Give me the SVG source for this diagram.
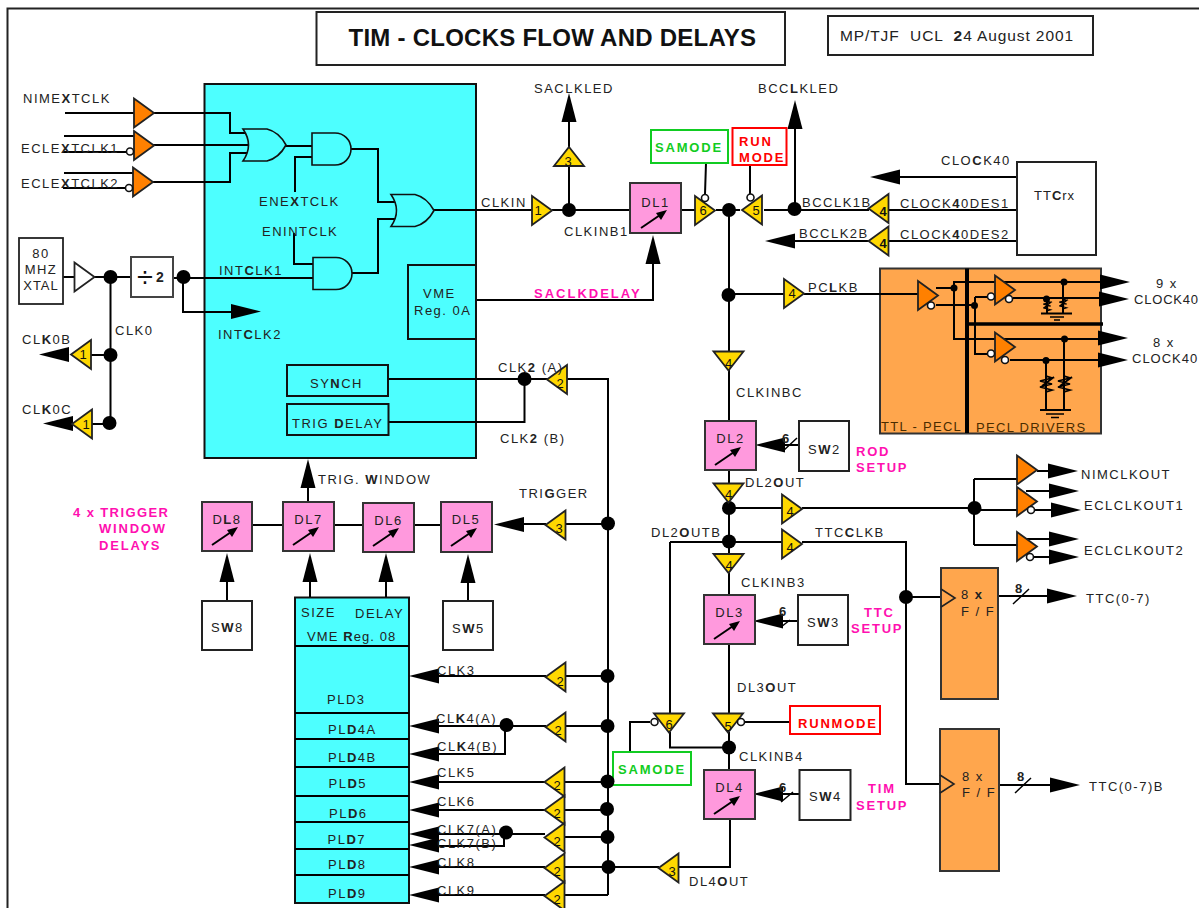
<svg xmlns="http://www.w3.org/2000/svg" width="1199" height="908" viewBox="0 0 1199 908">
<style>
text{font-family:"Liberation Sans",Arial,sans-serif;font-size:13px;letter-spacing:1.5px;fill:#222}
.b{font-weight:bold}
.m{font-weight:bold;fill:#ff10b0;letter-spacing:1.8px}
.g{font-weight:bold;fill:#11cc22;letter-spacing:1.8px}
.r{font-weight:bold;fill:#ff0000;letter-spacing:1.8px}
.n{text-anchor:middle;letter-spacing:0;fill:#111}
.c{text-anchor:middle}
.br{fill:#4a2c00}
.box{fill:#fff;stroke:#222;stroke-width:2}
.cy{fill:#4dffff;stroke:#111;stroke-width:2}
.dl{fill:#ff99dd;stroke:#333;stroke-width:2}
.or{fill:#ffa64d;stroke:#333;stroke-width:2}
.yb{fill:#ffd800;stroke:#222;stroke-width:1.8}
.ob{fill:#ff8000;stroke:#222;stroke-width:1.8}
.wb{fill:#fff;stroke:#222;stroke-width:1.8}
.gate{fill:#4dffff;stroke:#111;stroke-width:1.6}
.w{fill:none;stroke:#000;stroke-width:2}
.ff{fill:none;stroke:#222;stroke-width:1.6}
.t{fill:none;stroke:#000;stroke-width:4}
.th{fill:none;stroke:#000;stroke-width:1.5}
.grn{fill:#fff;stroke:#11cc22;stroke-width:2}
.red{fill:#fff;stroke:#ff0000;stroke-width:2}
.bub{fill:#fff;stroke:#111;stroke-width:1.6}
.d{fill:#000}
</style>
<defs>
<polygon id="tr" points="-10,-14.5 10,0 -10,14.5"/>
<polygon id="tl" points="10,-14.5 -10,0 10,14.5"/>
<polygon id="tu" points="-15,9.5 0,-9.5 15,9.5"/>
<polygon id="td" points="-15,-9.5 15,-9.5 0,9.5"/>
<polygon id="ar" points="0,0 -30,-7.5 -30,7.5"/>
<polygon id="al" points="0,0 30,-7.5 30,7.5"/>
<polygon id="au" points="0,0 -7.5,29 7.5,29"/>
<circle id="dot" r="7"/>
<circle id="sd" r="3.5"/>
<circle id="bub" r="3.5"/>
<path id="orG" d="M0,-16H24Q36,-13 43,0Q36,13 24,16H0Q11,0 0,-16Z"/>
<path id="andG" d="M0,-16H23A16,16 0 0 1 23,16H0Z"/>
<g id="dar"><path d="M0,0L22,-15" fill="none" stroke="#000" stroke-width="2"/><polygon points="26,-18 15,-15 20,-8" fill="#000"/></g>
<path id="res" d="M0,-11V-8L6,-6L-6,-3L6,0L-6,3L6,6L0,8V11M-4,2L8,-7" fill="none" stroke="#000" stroke-width="1.8"/>
</defs>

<g id="frame"><path d="M1199,8.5H7.5V908" fill="none" stroke="#222" stroke-width="2"/></g>
<g id="title"><rect class="box" x="316.5" y="12" width="468.5" height="53"/><text x="348.5" y="46" class="b" style="font-size:24px;letter-spacing:.25px;fill:#111">TIM - CLOCKS FLOW AND DELAYS</text></g>
<g id="date"><rect class="box" x="828" y="16" width="265" height="39"/><text x="840" y="41" style="font-size:15.5px;letter-spacing:.9px;white-space:pre">MP/TJF  UCL  <tspan class="b">2</tspan>4 August 2001</text></g>

<g id="panel-main"><rect class="cy" x="204.5" y="84" width="271.5" height="374"/></g>
<g id="panel-pecl"><rect class="or" x="880" y="268.5" width="221" height="165"/></g>
<g id="panel-pld">
<rect class="cy" x="295" y="597.5" width="114" height="305.5"/>
<path class="w" d="M295,646H409M295,713H409M295,739H409M295,767H409M295,796H409M295,822H409M295,849H409M295,875H409"/>
<text x="301" y="617">SIZE</text><text x="355" y="618">DELAY</text><text x="307" y="641" style="letter-spacing:1.1px">VME <tspan class="b">R</tspan>eg. 08</text>
<text x="327" y="704">PLD3</text><text x="328" y="734">PL<tspan class="b">D</tspan>4A</text><text x="328" y="762">PL<tspan class="b">D</tspan>4B</text><text x="328.5" y="788">PL<tspan class="b">D</tspan>5</text><text x="329" y="818">PL<tspan class="b">D</tspan>6</text><text x="327.5" y="844">PL<tspan class="b">D</tspan>7</text><text x="328" y="869">PL<tspan class="b">D</tspan>8</text><text x="328" y="898">PL<tspan class="b">D</tspan>9</text>
</g>

<g id="connectors">
<path class="w" d="M65,113H134M153,113H230V133H250M64,136H134M63,152H127M153,145H255M64,173H134M63,188H126M152,182H230V153H250"/>
<path class="w" d="M285,146H312M295,192V157H312M351,149H378V202H400M352,273H378V219H400M294,233V264H313M63,277H75M94,277H131M173,278H313M183,278V312H232"/>
<path class="w" d="M110.5,277V423M91,355H110M91,424H110"/>
<path class="w" d="M433,210H532M552,210H630M569,210V120M681,210H695M716,210H740M764,210H869M795,208V126M706,163L705,194M750,165V194M729,210V352M729,294H785M804,294H918"/>
<path class="w" d="M474,300H653V262"/>
<path class="w" d="M888,210H1017M888,241H1017M869,241H793M1017,177H898"/>
<path class="w" d="M388,379H548M566,379H608M524.5,379V422H388"/>
<path class="w" d="M608,378V895M565,524H608M546,524H520"/>
<path class="w" d="M252,525H283M334,525H363M414,525H441M308,488V502M227,600V581M310,597V581M386,597V581M468,601V581"/>
<path class="w" d="M729,370V421M729,470V485M729,502V554M729,508H782M802,508H975M729,542H782M802,542H906V784H941M906,597H941M670,542H729M670,542V714M729,573V595M729,644V714"/>
<path class="w" d="M974,479V545M974,479H1017M974,510H1017M974,545H1017"/>
<path class="w" d="M1037,471H1050M1026,491H1050M1034,510H1054M1026,539H1052M1033,557H1052"/>
<path class="w" d="M998,596H1048M999,785H1050"/>
<path class="th" d="M1013,604L1029,589M1015,793L1031,778"/>
<path class="w" d="M745,722H790M650,722H630V752M670,732V747.5H729M729,732V770M730,819V867H678M659,867H608"/>
<path class="w" d="M782,445H799M782,621H797M782,794H799"/>
<path class="th" d="M783,451L797,438M781,627L790,620M781,802L793,792"/>
<path class="w" d="M438,676H546M565,676H608M438,726H546M565,726H608M505,726V754H438M438,782H545M564,782H608M438,810H545M564,810H608M438,834H545M504,834V846H438M564,837H608M438,867H545M564,867H608M438,895H545M564,895H608"/>
<path class="w" d="M880,294H918M936,288H954V282H995M954,288V339H995M936,305H975M975,297V354H988M975,297H988M1003,282H1102M1013,298H1100M1004,339H1100M1010,360H1100"/>
<path class="w" d="M1047,298V313M1063,282V313M1046,360V410M1064,339V410M1041,313.5H1072M1040,410H1071"/>
<path class="w" d="M1050,317H1064M1054,320H1060M1046,414H1064M1051,417.5H1059" style="stroke-width:1.6"/>
<use href="#res" transform="translate(1047,306) scale(.62)"/>
<use href="#res" transform="translate(1063,304) scale(.62)"/>
<use href="#res" x="1046" y="384"/><use href="#res" x="1064" y="384"/>
<g class="d">
<use href="#dot" x="110.5" y="277"/><use href="#dot" x="183.5" y="277"/><use href="#dot" x="110.5" y="355"/><use href="#dot" x="109.5" y="423"/>
<use href="#dot" x="569" y="210"/><use href="#dot" x="729" y="210"/><use href="#dot" x="794.5" y="209"/><use href="#dot" x="728.5" y="295"/><use href="#dot" x="524.5" y="379"/>
<use href="#dot" x="608" y="523.5"/><use href="#dot" x="607.5" y="676"/><use href="#dot" x="607.5" y="726"/><use href="#dot" x="607" y="809"/><use href="#dot" x="607.5" y="837"/><use href="#dot" x="608.5" y="867"/>
<use href="#dot" x="729" y="508"/><use href="#dot" x="729" y="541.5"/><use href="#dot" x="729" y="747.5"/><use href="#dot" x="974.5" y="508"/><use href="#dot" x="906" y="597"/>
<use href="#dot" x="506.5" y="725"/><use href="#dot" x="506" y="832.5"/>
<use href="#sd" x="954" y="288"/><use href="#sd" x="974.5" y="305.5"/><use href="#sd" x="1064" y="282"/><use href="#sd" x="1046.5" y="299"/><use href="#sd" x="1064.5" y="339"/><use href="#sd" x="1046" y="360.5"/>
<use href="#ar" x="261" y="311.5"/><use href="#al" x="39" y="354.5"/><use href="#al" x="43" y="423.5"/>
<use href="#au" x="569" y="93"/><use href="#au" x="795" y="100"/><use href="#au" x="653" y="235"/>
<use href="#au" x="308" y="459"/><use href="#au" x="227" y="553"/><use href="#au" x="310" y="553"/><use href="#au" x="386" y="553"/><use href="#au" x="468" y="554"/>
<use href="#al" x="494" y="524.5"/><use href="#al" x="870" y="177"/><use href="#al" x="765" y="241"/>
<use href="#al" x="755" y="445"/><use href="#al" x="753" y="621"/><use href="#al" x="753" y="794"/>
<use href="#ar" x="1130" y="282"/><use href="#ar" x="1129" y="299"/><use href="#ar" x="1128" y="338"/><use href="#ar" x="1128" y="360"/>
<use href="#ar" x="1078" y="471"/><use href="#ar" x="1079" y="491"/><use href="#ar" x="1081" y="510"/><use href="#ar" x="1079" y="539"/><use href="#ar" x="1079" y="557"/>
<use href="#ar" x="1077" y="596"/><use href="#ar" x="1080" y="785"/>
<use href="#al" x="409" y="676"/><use href="#al" x="409" y="726"/><use href="#al" x="409" y="754"/><use href="#al" x="409" y="782"/><use href="#al" x="409" y="810"/><use href="#al" x="409" y="834"/><use href="#al" x="409" y="845"/><use href="#al" x="409" y="867"/><use href="#al" x="409" y="895"/>
</g>
<path d="M967,268.5V433" class="t"/><path d="M967,324H1103" class="t" style="stroke-width:3.5"/>
</g>

<g id="gates">
<g id="or1"><use href="#orG" class="gate" x="243" y="145"/></g>
<g id="and1"><use href="#andG" class="gate" x="312" y="149"/></g>
<g id="and2"><use href="#andG" class="gate" x="313" y="273.5"/></g>
<g id="or2"><use href="#orG" class="gate" x="391" y="210.5"/></g>
</g>

<g id="buffers-orange">
<g id="in-nim"><use href="#tr" class="ob" x="144" y="113"/></g>
<g id="in-ecl1"><use href="#tr" class="ob" x="144" y="145.5"/><use href="#bub" class="bub" x="130" y="151.5"/></g>
<g id="in-ecl2"><use href="#tr" class="ob" x="143" y="182"/><use href="#bub" class="bub" x="129" y="188"/></g>
<g id="pecl-in"><use href="#tr" class="ob" x="928" y="295.5"/><use href="#bub" class="bub" x="931" y="305.5"/></g>
<g id="pecl-a"><use href="#tr" class="ob" x="1005" y="290"/><use href="#bub" class="bub" x="991" y="296.5"/><use href="#bub" class="bub" x="1009" y="299"/></g>
<g id="pecl-b"><use href="#tr" class="ob" x="1005" y="347"/><use href="#bub" class="bub" x="991" y="353.5"/><use href="#bub" class="bub" x="1005" y="360"/></g>
<g id="out-nim"><use href="#tr" class="ob" x="1027" y="470"/></g>
<g id="out-ecl1"><use href="#tr" class="ob" x="1027" y="501.5"/><use href="#bub" class="bub" x="1031" y="510"/></g>
<g id="out-ecl2"><use href="#tr" class="ob" x="1027" y="546.5"/><use href="#bub" class="bub" x="1030" y="557"/></g>
<g id="xtal-buf"><use href="#tr" class="wb" x="84.5" y="277"/></g>
</g>

<g id="buffers-yellow">
<g id="b-clk0b"><use href="#tl" class="yb" x="81" y="354.5"/><text class="n" x="83" y="359">1</text></g>
<g id="b-clk0c"><use href="#tl" class="yb" x="82" y="424"/><text class="n" x="86" y="429">1</text></g>
<g id="b-clkin"><use href="#tr" class="yb" x="542" y="210.5"/><text class="n" x="538" y="215">1</text></g>
<g id="b-saclk"><use href="#tu" class="yb" x="569" y="156.5"/><text class="n" x="568" y="166">3</text></g>
<g id="b-6"><use href="#tr" class="yb" x="705" y="210.5"/><text class="n" x="703" y="215">6</text><use href="#bub" class="bub" x="705" y="198"/></g>
<g id="b-5"><use href="#tl" class="yb" x="752" y="210"/><text class="n" x="756" y="215">5</text><use href="#bub" class="bub" x="750.5" y="197.5"/></g>
<g id="b-des1"><use href="#tl" class="yb" x="878.5" y="208.5"/><text class="n b" x="883" y="216">4</text></g>
<g id="b-des2"><use href="#tl" class="yb" x="878.5" y="241"/><text class="n b" x="883" y="248">4</text></g>
<g id="b-pclk"><use href="#tr" class="yb" x="794" y="293.5"/><text class="n" x="792" y="298">4</text></g>
<g id="b-clkinbc"><use href="#td" class="yb" x="728.5" y="361"/><text class="n" x="728.5" y="368">4</text></g>
<g id="b-clk2"><use href="#tl" class="yb" x="557" y="379.5"/><text class="n" x="560" y="388">2</text></g>
<g id="b-trigger"><use href="#tl" class="yb" x="555.5" y="525"/><text class="n" x="559" y="533">3</text></g>
<g id="b-dl2out"><use href="#td" class="yb" x="728.5" y="493"/><text class="n" x="728.5" y="499">4</text></g>
<g id="b-nim"><use href="#tr" class="yb" x="792" y="509"/><text class="n" x="790" y="516">4</text></g>
<g id="b-ttc"><use href="#tr" class="yb" x="792" y="544"/><text class="n" x="790" y="552">4</text></g>
<g id="b-clkinb3"><use href="#td" class="yb" x="728.5" y="563.5"/><text class="n" x="729" y="570">4</text></g>
<g id="b-runmode"><use href="#td" class="yb" x="728" y="723"/><text class="n" x="728" y="731">5</text><use href="#bub" class="bub" x="741" y="722"/></g>
<g id="b-samode"><use href="#td" class="yb" x="669" y="723"/><text class="n" x="669" y="729">6</text><use href="#bub" class="bub" x="654.5" y="722"/></g>
<g id="b-dl4out"><use href="#tl" class="yb" x="668.5" y="868"/><text class="n" x="672" y="876">3</text></g>
<g id="b-clk3"><use href="#tl" class="yb" x="555.5" y="677"/><text class="n" x="560" y="686">2</text></g>
<g id="b-clk4"><use href="#tl" class="yb" x="555.5" y="727"/><text class="n" x="558" y="735">2</text></g>
<g id="b-clk5"><use href="#tl" class="yb" x="554.5" y="782"/><text class="n" x="557" y="790">2</text></g>
<g id="b-clk6"><use href="#tl" class="yb" x="554.5" y="810"/><text class="n" x="557" y="818">2</text></g>
<g id="b-clk7"><use href="#tl" class="yb" x="554.5" y="837.5"/><text class="n" x="557" y="846">2</text></g>
<g id="b-clk8"><use href="#tl" class="yb" x="554.5" y="868"/><text class="n" x="557" y="876">2</text></g>
<g id="b-clk9"><use href="#tl" class="yb" x="554.5" y="896"/><text class="n" x="557" y="904">2</text></g>
</g>

<g id="delays">
<g id="dl1"><rect class="dl" x="630" y="183" width="51" height="50"/><text class="c" x="655.5" y="207">DL1</text><use href="#dar" x="641" y="228"/></g>
<g id="dl2"><rect class="dl" x="705" y="421" width="51" height="49"/><text class="c" x="730.5" y="443">DL2</text><use href="#dar" x="715" y="465"/></g>
<g id="dl3"><rect class="dl" x="704" y="595" width="51" height="49"/><text class="c" x="729.5" y="617">DL3</text><use href="#dar" x="714" y="639"/></g>
<g id="dl4"><rect class="dl" x="704" y="770" width="51" height="49"/><text class="c" x="729.5" y="792">DL4</text><use href="#dar" x="714" y="814"/></g>
<g id="dl5"><rect class="dl" x="441" y="502" width="51" height="50"/><text class="c" x="466" y="524">DL5</text><use href="#dar" x="451" y="546"/></g>
<g id="dl6"><rect class="dl" x="363" y="503" width="51" height="49"/><text class="c" x="388.5" y="525">DL6</text><use href="#dar" x="373" y="546"/></g>
<g id="dl7"><rect class="dl" x="283" y="502" width="51" height="49"/><text class="c" x="308.5" y="524">DL7</text><use href="#dar" x="293" y="545"/></g>
<g id="dl8"><rect class="dl" x="202" y="502" width="50" height="49"/><text class="c" x="227" y="524">D<tspan class="b">L</tspan>8</text><use href="#dar" x="212" y="545"/></g>
</g>

<g id="boxes">
<g id="xtal"><rect class="box" x="19" y="238" width="44" height="66" style="stroke-width:1.8"/><text class="c" x="41" y="258">80</text><text class="c" x="41" y="274">MHZ</text><text class="c" x="41" y="290" style="letter-spacing:1px">XTAL</text></g>
<g id="div2"><rect class="box" x="131" y="257" width="42" height="40" style="stroke:#444"/><text x="137" y="287" class="n" style="font-size:29px;text-anchor:start">÷</text><text x="156" y="282" class="b" style="letter-spacing:0;font-size:14px">2</text></g>
<g id="vme0a"><rect class="cy" x="408" y="265" width="68" height="74"/><text x="423" y="298">VME</text><text x="414" y="315">Reg. 0A</text></g>
<g id="synch"><rect class="cy" x="287" y="365" width="101" height="31"/><text x="310" y="388">SY<tspan class="b">N</tspan>CH</text></g>
<g id="trigdelay"><rect class="cy" x="287" y="404" width="101.5" height="31"/><text x="292" y="428">TRIG <tspan class="b">D</tspan>ELAY</text></g>
<g id="sw2"><rect class="box" x="799" y="421" width="50" height="50"/><text x="808" y="454">S<tspan class="b">W</tspan>2</text></g>
<g id="sw3"><rect class="box" x="798" y="595" width="50" height="50"/><text x="807" y="627">S<tspan class="b">W</tspan>3</text></g>
<g id="sw4"><rect class="box" x="799.5" y="770" width="51" height="50"/><text x="809" y="801">S<tspan class="b">W</tspan>4</text></g>
<g id="sw5"><rect class="box" x="443" y="601" width="50" height="49"/><text x="452" y="633">S<tspan class="b">W</tspan>5</text></g>
<g id="sw8"><rect class="box" x="202" y="601" width="50" height="49"/><text x="211" y="632">S<tspan class="b">W</tspan>8</text></g>
<g id="ttcrx"><rect class="box" x="1017" y="162" width="79" height="93"/><text x="1034" y="200" style="letter-spacing:1px">TT<tspan class="b">C</tspan>rx</text></g>
<g id="samode1"><rect class="grn" x="651" y="130" width="77" height="33"/><text class="g" x="655" y="152">SAMODE</text></g>
<g id="runmode1"><rect class="red" x="732.5" y="128" width="54" height="37"/><text class="r" x="739" y="146">RUN</text><text class="r" x="739" y="162">MODE</text></g>
<g id="samode2"><rect class="grn" x="613" y="752" width="78" height="33"/><text class="g" x="618" y="774">SAMODE</text></g>
<g id="runmode2"><rect class="red" x="790" y="706" width="90" height="28"/><text class="r" x="798" y="728">RUNMODE</text></g>
<g id="ff1"><rect class="or" x="941" y="568" width="57" height="131"/><path class="ff" d="M941,589L955,598L941,607"/><text x="961" y="599">8 <tspan class="b">x</tspan></text><text x="961" y="616">F / F</text></g>
<g id="ff2"><rect class="or" x="940" y="729" width="59" height="142"/><path class="ff" d="M940,775L954,784L940,793"/><text x="962" y="781">8 x</text><text x="962" y="797">F / F</text></g>
</g>
<g id="junction-clk5"><use href="#dot" class="d" x="607.5" y="781.5"/></g>

<g id="labels">
<text x="23" y="103">NIME<tspan class="b">X</tspan>TCLK</text>
<text x="21" y="153">ECLE<tspan class="b">X</tspan>TCLK1</text>
<text x="21" y="188">ECLE<tspan class="b">X</tspan>TCLK2</text>
<text x="259" y="206">ENE<tspan class="b">X</tspan>TCLK</text>
<text x="262" y="236">ENINTCLK</text>
<text x="219" y="275">INT<tspan class="b">C</tspan>LK1</text>
<text x="218" y="339">INT<tspan class="b">C</tspan>LK2</text>
<text x="115" y="335">CLK0</text>
<text x="22" y="344">CL<tspan class="b">K</tspan>0B</text>
<text x="22" y="414">CL<tspan class="b">K</tspan>0C</text>
<text x="481" y="207">CLKIN</text>
<text x="564" y="236">CLKINB1</text>
<text x="534" y="93">SACLKLED</text>
<text x="758" y="93">BCC<tspan class="b">L</tspan>KLED</text>
<text class="m" x="534" y="298" style="letter-spacing:2px">SACLKDELAY</text>
<text x="941" y="165">CLO<tspan class="b">C</tspan>K40</text>
<text x="900" y="208">CLOCK<tspan class="b">4</tspan>0DES1</text>
<text x="900" y="239">CLOCK<tspan class="b">4</tspan>0DES2</text>
<text x="802" y="207">BCCLK1B</text>
<text x="799" y="238">BCCLK2B</text>
<text x="808" y="292">PC<tspan class="b">L</tspan>KB</text>
<text x="1156" y="288">9 x</text>
<text x="1134" y="304" style="letter-spacing:.8px">CLOCK40</text>
<text x="1153" y="347">8 x</text>
<text x="1132" y="363" style="letter-spacing:1px">CLOCK40</text>
<text class="br" x="881" y="431" style="letter-spacing:1.3px">TTL - PECL</text>
<text class="br" x="976" y="432" style="letter-spacing:1.3px">PECL DRIVERS</text>
<text x="736" y="397">CLKINBC</text>
<text x="498" y="372">CLK<tspan class="b">2</tspan> (A)</text>
<text x="500" y="443">CLK<tspan class="b">2</tspan> (B)</text>
<text x="318" y="484">TRIG. <tspan class="b">W</tspan>INDOW</text>
<text x="519" y="498">TRI<tspan class="b">G</tspan>GER</text>
<text class="m" x="73" y="517" style="letter-spacing:1.4px">4 x TRIGGER</text>
<text class="m" x="99" y="533">WINDOW</text>
<text class="m" x="99" y="550">DELAYS</text>
<text x="745" y="487">DL2<tspan class="b">O</tspan>UT</text>
<text x="651" y="537">DL2<tspan class="b">O</tspan>UTB</text>
<text x="815" y="537">TTC<tspan class="b">C</tspan>LKB</text>
<text x="741" y="587">CLKINB3</text>
<text x="737" y="692">DL3<tspan class="b">O</tspan>UT</text>
<text x="739" y="761">CLKINB4</text>
<text x="689" y="886">DL4<tspan class="b">O</tspan>UT</text>
<text class="m" x="856" y="456">ROD</text><text class="m" x="856" y="472">SETUP</text>
<text class="m" x="864" y="617">TTC</text><text class="m" x="851" y="633">SETUP</text>
<text class="m" x="868" y="793">TIM</text><text class="m" x="856" y="810">SETUP</text>
<text x="1081" y="479">NIMCLKOUT</text>
<text x="1084" y="510">ECLCLKOUT1</text>
<text x="1084" y="555">ECLCLKOUT2</text>
<text x="1086" y="603">TTC(0-7)</text>
<text x="1089" y="791">TTC(0-7)B</text>
<text class="b" x="1015" y="593" style="letter-spacing:0">8</text>
<text class="b" x="1017" y="781" style="letter-spacing:0">8</text>
<text class="b" x="782" y="443" style="letter-spacing:0">6</text>
<text class="b" x="779" y="616" style="letter-spacing:0">6</text>
<text class="b" x="779" y="792" style="letter-spacing:0">6</text>
<text x="437" y="675">CLK3</text>
<text x="436" y="723">CL<tspan class="b">K</tspan>4(A)</text>
<text x="437" y="751">CL<tspan class="b">K</tspan>4(B)</text>
<text x="437" y="777">CLK5</text>
<text x="437" y="806">CLK6</text>
<text x="437" y="834">CLK7(A)</text>
<text x="437" y="848">CLK7(B)</text>
<text x="437" y="867">CLK8</text>
<text x="437" y="895">CLK9</text>
</g>
</svg>
